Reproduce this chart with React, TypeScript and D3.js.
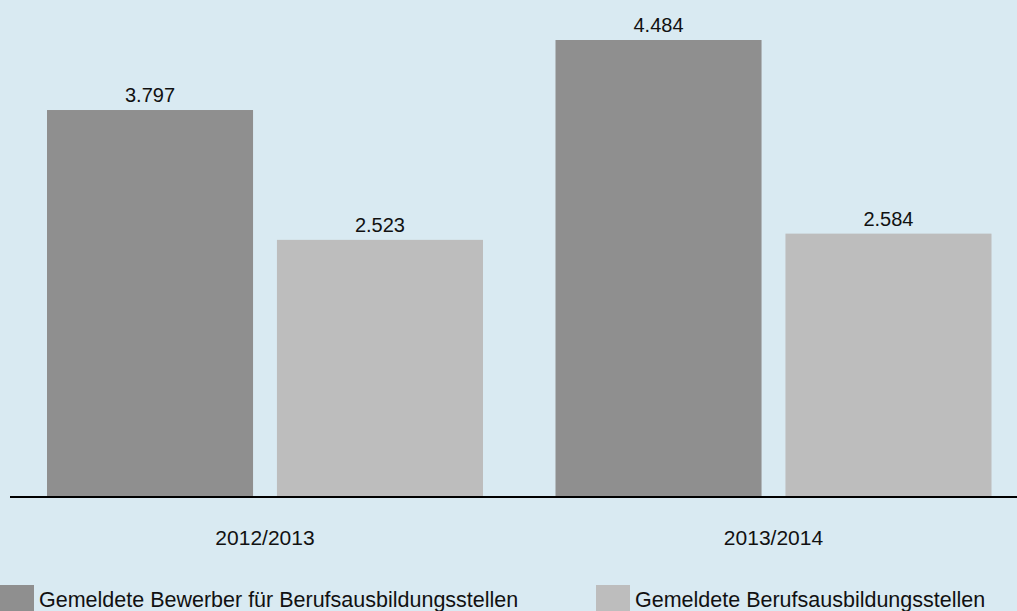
import React from "react";
import * as d3 from "d3";

const categories = ["2012/2013", "2013/2014"];
const seriesNames = [
  "Gemeldete Bewerber für Berufsausbildungsstellen",
  "Gemeldete Berufsausbildungsstellen",
];
const bewerber = [3.797, 4.484];
const stellen = [2.523, 2.584];
const seriesValues = [bewerber, stellen];
const colors = ["#8f8f8f", "#bdbdbd"];

const W = 1017;
const H = 611;
const baseY = 497;

export default function App() {
  const x0 = d3
    .scaleBand<string>()
    .domain(categories)
    .range([10.75, 1027.75])
    .paddingInner(0.1426)
    .paddingOuter(0.0713);
  const x1 = d3
    .scaleBand<number>()
    .domain([0, 1])
    .range([0, x0.bandwidth()])
    .paddingInner(0.104);
  const y = d3.scaleLinear().domain([0, 4.484]).range([baseY, 40]);
  const fmt = (v: number) => v.toFixed(3);
  const font = "Liberation Sans, Arial, sans-serif";

  return (
    <svg
      width={W}
      height={H}
      style={{ position: "absolute", left: 0, top: 0, background: "#d9eaf2" }}
      fontFamily={font}
    >
      <rect x={0} y={0} width={W} height={H} fill="#d9eaf2" />
      {categories.map((c, ci) => (
        <g key={c} transform={`translate(${x0(c)},0)`}>
          {seriesValues.map((vals, si) => {
            const v = vals[ci];
            const bx = x1(si)!;
            return (
              <g key={si}>
                <rect
                  x={bx}
                  y={y(v)}
                  width={x1.bandwidth()}
                  height={baseY + 1 - y(v)}
                  fill={colors[si]}
                />
                <text
                  x={bx + x1.bandwidth() / 2}
                  y={y(v) - 8}
                  textAnchor="middle"
                  fontSize={20}
                  fill="#111"
                >
                  {fmt(v)}
                </text>
              </g>
            );
          })}
          <text
            x={x0.bandwidth() / 2}
            y={545}
            textAnchor="middle"
            fontSize={21}
            fill="#111"
          >
            {c}
          </text>
        </g>
      ))}
      <line x1={10} x2={W} y1={baseY} y2={baseY} stroke="#000" strokeWidth={2} />
      {seriesNames.map((n, i) => {
        const lx = i === 0 ? 0 : 596;
        return (
          <g key={n} transform={`translate(${lx},585)`}>
            <rect x={0} y={0} width={34} height={30} fill={colors[i]} />
            <text x={39} y={22} fontSize={21.5} fill="#111">
              {n}
            </text>
          </g>
        );
      })}
    </svg>
  );
}
